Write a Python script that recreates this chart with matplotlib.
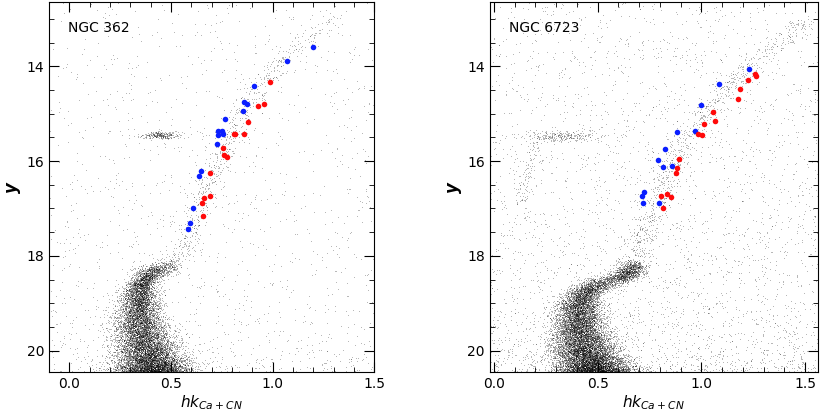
import numpy as np
import matplotlib
matplotlib.use("Agg")
import matplotlib.pyplot as plt
from matplotlib.ticker import MultipleLocator

# ---- cluster names / axis ranges -------------------------------------
names = ["NGC 362", "NGC 6723"]
xlims = [(-0.10, 1.50), (-0.02, 1.56)]

# ---- highlighted RGB stars --------------------------------------------
blue362_x = [1.20, 1.069, 0.91, 0.857, 0.872, 0.852, 0.766, 0.73, 0.75, 0.757,
             0.73, 0.724, 0.648, 0.637, 0.61, 0.594, 0.584]
blue362_y = [13.60, 13.89, 14.41, 14.76, 14.80, 14.95, 15.10, 15.36, 15.37, 15.42,
             15.45, 15.63, 16.21, 16.31, 17.00, 17.30, 17.43]
red362_x = [0.985, 0.955, 0.93, 0.878, 0.809, 0.817, 0.858, 0.757, 0.762, 0.777,
            0.691, 0.693, 0.662, 0.655, 0.658]
red362_y = [14.33, 14.79, 14.84, 15.17, 15.42, 15.42, 15.42, 15.73, 15.87, 15.91,
            16.26, 16.74, 16.77, 16.89, 17.15]

blue6723_x = [1.23, 1.086, 1.0, 0.882, 0.97, 0.824, 0.79, 0.816, 0.859, 0.724,
              0.712, 0.717, 0.795]
blue6723_y = [14.06, 14.37, 14.82, 15.39, 15.37, 15.74, 15.97, 16.13, 16.11, 16.66,
              16.74, 16.88, 16.88]
red6723_x = [1.258, 1.265, 1.225, 1.187, 1.177, 1.056, 1.065, 1.015, 0.983, 1.005,
             0.891, 0.884, 0.877, 0.806, 0.834, 0.853, 0.815]
red6723_y = [14.15, 14.21, 14.29, 14.47, 14.69, 14.96, 15.16, 15.21, 15.42, 15.44,
             15.96, 16.15, 16.25, 16.73, 16.70, 16.76, 16.98]

# ---- sequence ridge lines (mag, colour) -------------------------------
ridge362_y = [20.5, 20.0, 19.5, 19.0, 18.6, 18.35, 18.2, 18.0, 17.5, 17.0, 16.5, 16.0, 15.5, 15.0, 14.5, 14.0, 13.5, 13.0]
ridge362_x = [0.42, 0.38, 0.35, 0.34, 0.35, 0.40, 0.50, 0.56, 0.60, 0.64, 0.68, 0.73, 0.79, 0.85, 0.92, 1.02, 1.15, 1.32]
ridge6723_y = [20.5, 20.0, 19.5, 19.1, 18.8, 18.6, 18.45, 18.2, 17.5, 17.0, 16.5, 16.0, 15.5, 15.0, 14.5, 14.0, 13.5, 13.2]
ridge6723_x = [0.50, 0.44, 0.41, 0.41, 0.43, 0.50, 0.62, 0.68, 0.73, 0.77, 0.82, 0.87, 0.93, 1.01, 1.11, 1.23, 1.38, 1.48]
# horizontal branch blobs: centre x, centre y, x spread, y spread
hb362 = [0.45, 15.45, 0.05, 0.04]
hb6723 = [0.33, 15.47, 0.09, 0.06]
bhb6723_x = [0.13, 0.15, 0.18, 0.20]
bhb6723_y = [16.8, 16.4, 16.0, 15.7]

rng = np.random.default_rng(3)


def cloud(rx, ry, n_ms, n_rgb):
    # MS/SGB getting denser toward faint mags plus a sparse RGB
    ry = np.asarray(ry)
    rx = np.asarray(rx)
    ys_ms = 20.6 - 2.4 * rng.random(n_ms) ** 2.2
    ys_rgb = 18.4 - 5.4 * rng.random(n_rgb)
    ys = np.concatenate([ys_ms, ys_rgb])
    xs = np.interp(ys, ry[::-1], rx[::-1])
    wid = np.where(ys > 18.5, 0.035 + 0.03 * (ys - 18.5), 0.035)
    xs = xs + rng.normal(0, 1, ys.size) * wid
    ys = ys + rng.normal(0, 0.08, ys.size)
    return xs, ys


fig = plt.figure(figsize=(8.3, 4.15), dpi=100)
axes = [fig.add_axes([0.059, 0.104, 0.392, 0.89]),
        fig.add_axes([0.590, 0.104, 0.395, 0.89])]

sets = [
    (ridge362_x, ridge362_y, hb362, None, blue362_x, blue362_y, red362_x, red362_y, 15000, 700, 1500),
    (ridge6723_x, ridge6723_y, hb6723, (bhb6723_x, bhb6723_y), blue6723_x, blue6723_y, red6723_x, red6723_y, 17000, 800, 3500),
]

for ax, name, xl, s in zip(axes, names, xlims, sets):
    rx, ry, hb, bhb, bx, by, rdx, rdy, nms, nrgb, nfield = s
    xs, ys = cloud(rx, ry, nms, nrgb)
    hx = hb[0] + rng.normal(0, hb[2], 250)
    hy = hb[1] + rng.normal(0, hb[3], 250)
    fx = xl[0] + (xl[1] - xl[0]) * rng.random(nfield)
    fy = 20.5 - 7.9 * rng.random(nfield) ** 1.7
    allx = [xs, hx, fx]
    ally = [ys, hy, fy]
    if bhb is not None:
        by_ = 15.6 + 1.3 * rng.random(90)
        bx_ = np.interp(by_, bhb[1][::-1], bhb[0][::-1]) + rng.normal(0, 0.015, 90)
        allx.append(bx_)
        ally.append(by_)
    ax.scatter(np.concatenate(allx), np.concatenate(ally), s=0.4, c="black",
               marker=".", linewidths=0, rasterized=True)
    ax.scatter(bx, by, s=16, c="#0a1eff", linewidths=0, zorder=3)
    ax.scatter(rdx, rdy, s=16, c="#ff0a0a", linewidths=0, zorder=3)

    ax.set_xlim(*xl)
    ax.set_ylim(20.45, 12.65)
    ax.xaxis.set_minor_locator(MultipleLocator(0.1))
    ax.yaxis.set_major_locator(MultipleLocator(2))
    ax.yaxis.set_minor_locator(MultipleLocator(0.5))
    ax.set_xticks([0.0, 0.5, 1.0, 1.5])
    ax.set_xticklabels(["0.0", "0.5", "1.0", "1.5"])
    ax.tick_params(which="both", direction="in", top=True, right=True, labelsize=10)
    ax.tick_params(which="major", length=7)
    ax.tick_params(which="minor", length=3.5)
    ax.text(0.06, 0.93, name, transform=ax.transAxes, fontsize=10, va="center")
    ax.set_xlabel(r"$hk_{Ca+CN}$", fontsize=11, labelpad=2)
    ax.set_ylabel("y", fontsize=12, style="italic", weight="bold", labelpad=4)

fig.savefig("out.png", dpi=100)
